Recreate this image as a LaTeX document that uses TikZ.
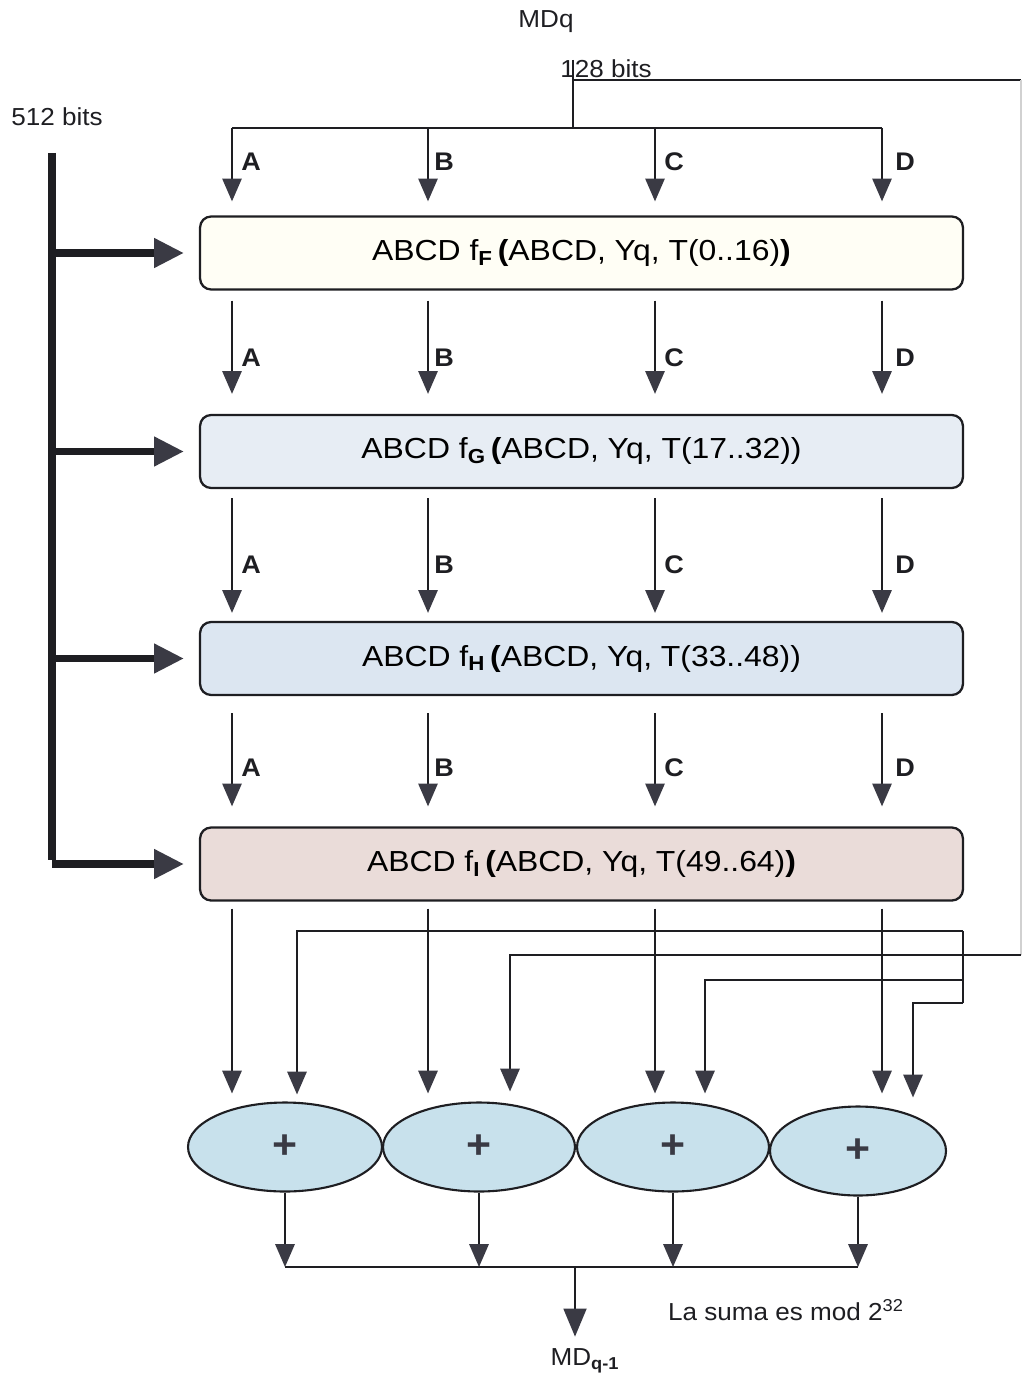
\documentclass[tikz,border=0pt]{standalone}
\usepackage{fontspec}
\setmainfont{Liberation Sans}[FakeStretch=1.06]
\newfontfamily\boxfont{Liberation Sans}[FakeStretch=1.1]
\usetikzlibrary{arrows.meta,shapes.geometric}
\definecolor{tipc}{HTML}{3A3A44}
\definecolor{lnc}{HTML}{1E1E22}
\definecolor{bxA}{HTML}{FFFEF5}
\definecolor{bxB}{HTML}{E7EDF4}
\definecolor{bxC}{HTML}{DCE6F1}
\definecolor{bxD}{HTML}{EADCD9}
\definecolor{ellc}{HTML}{C8E1EC}
\begin{document}
\begin{tikzpicture}[x=0.02cm,y=-0.02cm,
  ln/.style={line width=1.1pt,draw=lnc},
  arr/.style={-{Triangle[width=11pt,length=13pt,color=tipc]}},
  bigarr/.style={line width=4pt,draw=lnc,-{Triangle[width=16pt,length=17pt,color=tipc]}},
  fbox/.style={draw=lnc,line width=1.3pt,rounded corners=0.22cm,minimum width=15.26cm,minimum height=1.46cm,inner sep=0pt,font=\boxfont\fontsize{16.5}{19}\selectfont},
  sumell/.style={ellipse,draw=lnc,line width=1.2pt,fill=ellc,inner sep=0pt,minimum height=1.78cm,font=\fontsize{23}{23}\selectfont\bfseries,text=tipc},
  lbl/.style={font=\fontsize{14.5}{17}\selectfont\bfseries,text=lnc},
  txt/.style={font=\fontsize{14}{17}\selectfont,text=lnc}]
\useasboundingbox (0,0) rectangle (1024,1378);

% column coordinates
\coordinate (cA) at (232,0);
\coordinate (cB) at (428,0);
\coordinate (cC) at (655,0);
\coordinate (cD) at (882,0);

% texts at top
\node[txt] (mdq) at (546,22) {MDq};
\node[txt] (b128) at (606,69) {128 bits};
\node[txt] (b512) at (57,117) {512 bits};

% function boxes
\node[fbox,fill=bxA] (box1) at (581.5,253) {ABCD f\textsubscript{\textbf{F}}\,\textbf{(}ABCD, Yq, T(0..16)\textbf{)}};
\node[fbox,fill=bxB] (box2) at (581.5,451.5) {ABCD f\textsubscript{\textbf{G}}\,\textbf{(}ABCD, Yq, T(17..32))};
\node[fbox,fill=bxC] (box3) at (581.5,658.5) {ABCD f\textsubscript{\textbf{H}}\,\textbf{(}ABCD, Yq, T(33..48))};
\node[fbox,fill=bxD] (box4) at (581.5,864) {ABCD f\textsubscript{\textbf{I}}\,\textbf{(}ABCD, Yq, T(49..64)\textbf{)}};

% top distribution
\coordinate (t0) at (573,60);
\coordinate (t1) at (573,128);
\coordinate (fR) at (1021,80);
\coordinate (fB) at (1021,955);
\draw[ln] (t0) -- (t1);
\draw[ln,line width=0.9pt] (t0 |- fR) -- (fR);
\draw[ln] (t1 -| cA) -- (t1 -| cD);
\foreach \c in {A,B,C,D}{
  \draw[ln,arr,shorten >=0.28cm] (t1 -| c\c) -- (box1.north -| c\c);
}
\foreach \c in {A,B,C,D}{
  \draw[ln,arr,shorten <=0.2cm,shorten >=0.4cm] (box1.south -| c\c) -- (box2.north -| c\c);
  \draw[ln,arr,shorten <=0.18cm,shorten >=0.16cm] (box2.south -| c\c) -- (box3.north -| c\c);
  \draw[ln,arr,shorten <=0.34cm,shorten >=0.4cm] (box3.south -| c\c) -- (box4.north -| c\c);
}

% A B C D labels
\foreach \r/\y in {1/162,2/358,3/565,4/768}{
  \node[lbl] (la\r) at (251,\y) {A};
  \node[lbl] (lb\r) at (444,\y) {B};
  \node[lbl] (lc\r) at (674,\y) {C};
  \node[lbl] (ld\r) at (905,\y) {D};
}

% 512 bits bus
\coordinate (v0) at (52,153);
\coordinate (v1) at (52,860);
\draw[ln,line width=4pt] (v0) -- (v1);
\foreach \b in {1,2,3,4}{
  \draw[bigarr,shorten >=0.3cm] (v0 |- box\b.west) -- (box\b.west);
}

% adders
\node[sumell,minimum width=3.88cm] (e1) at (285,1147) {+};
\node[sumell,minimum width=3.84cm] (e2) at (479,1147) {+};
\node[sumell,minimum width=3.84cm] (e3) at (673,1147) {+};
\node[sumell,minimum width=3.52cm] (e4) at (858,1151) {+};

% straight outputs from box4 to adders
\draw[ln,arr,shorten <=0.14cm,shorten >=0.16cm] (box4.south -| cA) -- (e1.north -| cA);
\draw[ln,arr,shorten <=0.14cm,shorten >=0.16cm] (box4.south -| cB) -- (e2.north -| cB);
\draw[ln,arr,shorten <=0.14cm,shorten >=0.16cm] (box4.south -| cC) -- (e3.north -| cC);
\draw[ln,arr,shorten <=0.14cm,shorten >=0.24cm] (box4.south -| cD) -- (e4.north -| cD);

% feedback of MDq
\coordinate (g1) at (297,931);
\coordinate (g2) at (510,955);
\coordinate (g3) at (705,980);
\coordinate (g4) at (913,1003);
\coordinate (gv) at (963,931);
\draw[line width=0.9pt,draw=black!18] (fR) -- (fB);
\draw[ln] (gv) -- (gv |- g4);
\draw[ln,arr,shorten >=0.14cm] (gv) -- (g1) -- (e1.north -| g1);
\draw[ln,arr,shorten >=0.2cm] (fB) -- (g2) -- (e2.north -| g2);
\draw[ln,arr,shorten >=0.16cm] (gv |- g3) -- (g3) -- (e3.north -| g3);
\draw[ln,arr,shorten >=0.16cm] (gv |- g4) -- (g4) -- (e4.north -| g4);

% result bus
\coordinate (bus) at (575,1267);
\draw[ln] (e1.south |- bus) -- (e4.south |- bus);
\foreach \e in {1,2,3,4}{
  \draw[ln,arr] (e\e.south) -- (e\e.south |- bus);
}
\node[txt] (mdq1) at (585,1361) {MD\textsubscript{\textbf{q-1}}};
\draw[ln,line width=1.4pt,-{Triangle[width=13pt,length=16pt,color=tipc]},shorten >=0.12cm] (bus) -- (mdq1.north -| bus);
\node[txt] (nota) at (786,1310) {La suma es mod 2\textsuperscript{32}};
\end{tikzpicture}
\end{document}
